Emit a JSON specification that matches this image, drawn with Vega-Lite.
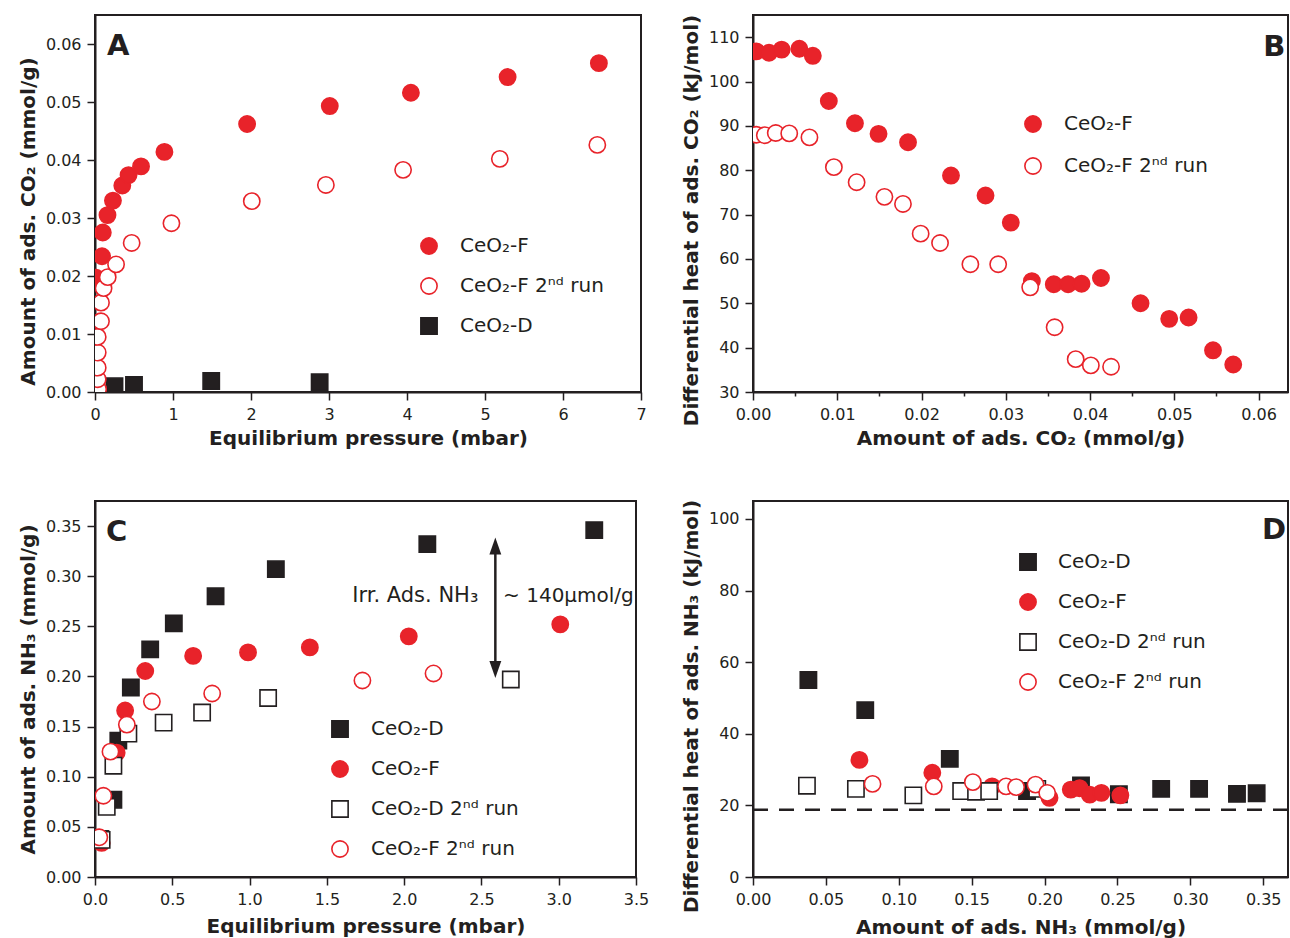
{
  "$schema": "https://vega.github.io/schema/vega-lite/v6.json",
  "background": "white",
  "padding": {"left": 17, "top": 13, "right": 0, "bottom": 0},
  "bounds": "flush",
  "columns": 2,
  "align": "each",
  "spacing": {"row": 109, "column": 112},
  "resolve": {
    "scale": {"shape": "independent", "fill": "independent", "stroke": "independent"},
    "legend": {"shape": "independent", "fill": "independent", "stroke": "independent"}
  },
  "config": {
    "font": "DejaVu Sans",
    "view": {"stroke": "#231f20", "strokeWidth": 2},
    "axis": {
      "domainColor": "#231f20", "domainWidth": 2, "tickColor": "#231f20", "tickWidth": 1.5,
      "labelFont": "DejaVu Sans", "labelFontSize": 16, "labelColor": "#231f20",
      "titleFont": "DejaVu Sans", "titleFontSize": 20, "titleFontWeight": "bold", "titleColor": "#231f20",
      "grid": false, "labelPadding": 6, "labelFlush": false, "labelOverlap": false
    },
    "legend": {
      "title": null, "orient": "none", "padding": 0, "symbolSize": 265, "symbolStrokeWidth": 1.6,
      "labelFont": "DejaVu Sans", "labelFontSize": 20, "labelColor": "#231f20", "labelLimit": 400
    }
  },
  "datasets": {
    "a": [
      {"s": "CeO₂-D", "x": 0.25, "y": 0.001},
      {"s": "CeO₂-D", "x": 0.5, "y": 0.0012},
      {"s": "CeO₂-D", "x": 1.49, "y": 0.0019},
      {"s": "CeO₂-D", "x": 2.88, "y": 0.0017},
      {"s": "CeO₂-F", "x": 0.013, "y": 0.0197},
      {"s": "CeO₂-F", "x": 0.09, "y": 0.0234},
      {"s": "CeO₂-F", "x": 0.1, "y": 0.0275},
      {"s": "CeO₂-F", "x": 0.16, "y": 0.0305},
      {"s": "CeO₂-F", "x": 0.23, "y": 0.033},
      {"s": "CeO₂-F", "x": 0.35, "y": 0.0356},
      {"s": "CeO₂-F", "x": 0.43, "y": 0.0374},
      {"s": "CeO₂-F", "x": 0.59, "y": 0.0389},
      {"s": "CeO₂-F", "x": 0.89, "y": 0.0414},
      {"s": "CeO₂-F", "x": 1.95, "y": 0.0462},
      {"s": "CeO₂-F", "x": 3.01, "y": 0.0493},
      {"s": "CeO₂-F", "x": 4.05, "y": 0.0516},
      {"s": "CeO₂-F", "x": 5.29, "y": 0.0543},
      {"s": "CeO₂-F", "x": 6.46, "y": 0.0567},
      {"s": "CeO₂-F 2ⁿᵈ run", "x": 0.04, "y": 0.0005},
      {"s": "CeO₂-F 2ⁿᵈ run", "x": 0.035, "y": 0.0022},
      {"s": "CeO₂-F 2ⁿᵈ run", "x": 0.035, "y": 0.0042},
      {"s": "CeO₂-F 2ⁿᵈ run", "x": 0.035, "y": 0.0068},
      {"s": "CeO₂-F 2ⁿᵈ run", "x": 0.035, "y": 0.0095},
      {"s": "CeO₂-F 2ⁿᵈ run", "x": 0.077, "y": 0.0122},
      {"s": "CeO₂-F 2ⁿᵈ run", "x": 0.077, "y": 0.0154},
      {"s": "CeO₂-F 2ⁿᵈ run", "x": 0.11, "y": 0.0179},
      {"s": "CeO₂-F 2ⁿᵈ run", "x": 0.163, "y": 0.0198},
      {"s": "CeO₂-F 2ⁿᵈ run", "x": 0.27, "y": 0.022},
      {"s": "CeO₂-F 2ⁿᵈ run", "x": 0.47, "y": 0.0257},
      {"s": "CeO₂-F 2ⁿᵈ run", "x": 0.98, "y": 0.0291},
      {"s": "CeO₂-F 2ⁿᵈ run", "x": 2.01, "y": 0.0329},
      {"s": "CeO₂-F 2ⁿᵈ run", "x": 2.96, "y": 0.0357},
      {"s": "CeO₂-F 2ⁿᵈ run", "x": 3.95, "y": 0.0383},
      {"s": "CeO₂-F 2ⁿᵈ run", "x": 5.19, "y": 0.0402},
      {"s": "CeO₂-F 2ⁿᵈ run", "x": 6.44, "y": 0.0426}
    ],
    "b": [
      {"s": "CeO₂-F", "x": 0.0004, "y": 106.8},
      {"s": "CeO₂-F", "x": 0.0019, "y": 106.5},
      {"s": "CeO₂-F", "x": 0.0034, "y": 107.2},
      {"s": "CeO₂-F", "x": 0.0055, "y": 107.4},
      {"s": "CeO₂-F", "x": 0.0071, "y": 105.8},
      {"s": "CeO₂-F", "x": 0.009, "y": 95.6},
      {"s": "CeO₂-F", "x": 0.0121, "y": 90.6},
      {"s": "CeO₂-F", "x": 0.0149, "y": 88.2},
      {"s": "CeO₂-F", "x": 0.0184, "y": 86.3},
      {"s": "CeO₂-F", "x": 0.0235, "y": 78.8},
      {"s": "CeO₂-F", "x": 0.0276, "y": 74.3},
      {"s": "CeO₂-F", "x": 0.0306, "y": 68.2},
      {"s": "CeO₂-F", "x": 0.0331, "y": 55.0},
      {"s": "CeO₂-F", "x": 0.0357, "y": 54.3},
      {"s": "CeO₂-F", "x": 0.0374, "y": 54.3},
      {"s": "CeO₂-F", "x": 0.039, "y": 54.4},
      {"s": "CeO₂-F", "x": 0.0413, "y": 55.7},
      {"s": "CeO₂-F", "x": 0.046, "y": 50.0},
      {"s": "CeO₂-F", "x": 0.0494, "y": 46.5},
      {"s": "CeO₂-F", "x": 0.0517, "y": 46.8},
      {"s": "CeO₂-F", "x": 0.0546, "y": 39.4},
      {"s": "CeO₂-F", "x": 0.057, "y": 36.2},
      {"s": "CeO₂-F 2ⁿᵈ run", "x": 0.0004, "y": 88.0},
      {"s": "CeO₂-F 2ⁿᵈ run", "x": 0.0014, "y": 87.9},
      {"s": "CeO₂-F 2ⁿᵈ run", "x": 0.0027, "y": 88.4},
      {"s": "CeO₂-F 2ⁿᵈ run", "x": 0.0043, "y": 88.3},
      {"s": "CeO₂-F 2ⁿᵈ run", "x": 0.0067, "y": 87.4},
      {"s": "CeO₂-F 2ⁿᵈ run", "x": 0.0096, "y": 80.7},
      {"s": "CeO₂-F 2ⁿᵈ run", "x": 0.0123, "y": 77.3},
      {"s": "CeO₂-F 2ⁿᵈ run", "x": 0.0156, "y": 74.0},
      {"s": "CeO₂-F 2ⁿᵈ run", "x": 0.0178, "y": 72.4},
      {"s": "CeO₂-F 2ⁿᵈ run", "x": 0.0199, "y": 65.7},
      {"s": "CeO₂-F 2ⁿᵈ run", "x": 0.0222, "y": 63.6},
      {"s": "CeO₂-F 2ⁿᵈ run", "x": 0.0258, "y": 58.8},
      {"s": "CeO₂-F 2ⁿᵈ run", "x": 0.0291, "y": 58.8},
      {"s": "CeO₂-F 2ⁿᵈ run", "x": 0.0329, "y": 53.6},
      {"s": "CeO₂-F 2ⁿᵈ run", "x": 0.0358, "y": 44.6},
      {"s": "CeO₂-F 2ⁿᵈ run", "x": 0.0383, "y": 37.4},
      {"s": "CeO₂-F 2ⁿᵈ run", "x": 0.0401, "y": 36.0},
      {"s": "CeO₂-F 2ⁿᵈ run", "x": 0.0425, "y": 35.7}
    ],
    "c": [
      {"s": "CeO₂-D", "x": 0.035, "y": 0.038},
      {"s": "CeO₂-D", "x": 0.119, "y": 0.077},
      {"s": "CeO₂-D", "x": 0.151, "y": 0.136},
      {"s": "CeO₂-D", "x": 0.232, "y": 0.189},
      {"s": "CeO₂-D", "x": 0.357, "y": 0.227},
      {"s": "CeO₂-D", "x": 0.51, "y": 0.253},
      {"s": "CeO₂-D", "x": 0.78, "y": 0.28},
      {"s": "CeO₂-D", "x": 1.17, "y": 0.307},
      {"s": "CeO₂-D", "x": 2.15, "y": 0.332},
      {"s": "CeO₂-D", "x": 3.23, "y": 0.346},
      {"s": "CeO₂-F", "x": 0.043, "y": 0.034},
      {"s": "CeO₂-F", "x": 0.14, "y": 0.124},
      {"s": "CeO₂-F", "x": 0.195, "y": 0.166},
      {"s": "CeO₂-F", "x": 0.325, "y": 0.2055},
      {"s": "CeO₂-F", "x": 0.635, "y": 0.2205},
      {"s": "CeO₂-F", "x": 0.99, "y": 0.224},
      {"s": "CeO₂-F", "x": 1.39, "y": 0.229},
      {"s": "CeO₂-F", "x": 2.03, "y": 0.24},
      {"s": "CeO₂-F", "x": 3.01, "y": 0.252},
      {"s": "CeO₂-D 2ⁿᵈ run", "x": 0.043, "y": 0.037},
      {"s": "CeO₂-D 2ⁿᵈ run", "x": 0.076, "y": 0.07},
      {"s": "CeO₂-D 2ⁿᵈ run", "x": 0.119, "y": 0.111},
      {"s": "CeO₂-D 2ⁿᵈ run", "x": 0.216, "y": 0.143},
      {"s": "CeO₂-D 2ⁿᵈ run", "x": 0.444, "y": 0.154},
      {"s": "CeO₂-D 2ⁿᵈ run", "x": 0.693, "y": 0.164},
      {"s": "CeO₂-D 2ⁿᵈ run", "x": 1.12, "y": 0.1785},
      {"s": "CeO₂-D 2ⁿᵈ run", "x": 2.69, "y": 0.197},
      {"s": "CeO₂-F 2ⁿᵈ run", "x": 0.028, "y": 0.0396},
      {"s": "CeO₂-F 2ⁿᵈ run", "x": 0.054, "y": 0.081},
      {"s": "CeO₂-F 2ⁿᵈ run", "x": 0.1, "y": 0.125},
      {"s": "CeO₂-F 2ⁿᵈ run", "x": 0.206, "y": 0.152},
      {"s": "CeO₂-F 2ⁿᵈ run", "x": 0.368, "y": 0.175},
      {"s": "CeO₂-F 2ⁿᵈ run", "x": 0.758, "y": 0.183},
      {"s": "CeO₂-F 2ⁿᵈ run", "x": 1.73, "y": 0.196},
      {"s": "CeO₂-F 2ⁿᵈ run", "x": 2.19, "y": 0.203}
    ],
    "d": [
      {"s": "CeO₂-D", "x": 0.038, "y": 55.0},
      {"s": "CeO₂-D", "x": 0.077, "y": 46.6},
      {"s": "CeO₂-D", "x": 0.135, "y": 33.0},
      {"s": "CeO₂-D", "x": 0.188, "y": 24.0},
      {"s": "CeO₂-D", "x": 0.225, "y": 25.6},
      {"s": "CeO₂-D", "x": 0.251, "y": 23.1},
      {"s": "CeO₂-D", "x": 0.28, "y": 24.6},
      {"s": "CeO₂-D", "x": 0.306, "y": 24.6},
      {"s": "CeO₂-D", "x": 0.332, "y": 23.2},
      {"s": "CeO₂-D", "x": 0.3455, "y": 23.4},
      {"s": "CeO₂-F", "x": 0.073, "y": 32.7},
      {"s": "CeO₂-F", "x": 0.123, "y": 29.1},
      {"s": "CeO₂-F", "x": 0.164, "y": 25.3},
      {"s": "CeO₂-F", "x": 0.2034, "y": 22.1},
      {"s": "CeO₂-F", "x": 0.218, "y": 24.4},
      {"s": "CeO₂-F", "x": 0.224, "y": 24.8},
      {"s": "CeO₂-F", "x": 0.231, "y": 23.0},
      {"s": "CeO₂-F", "x": 0.239, "y": 23.5},
      {"s": "CeO₂-F", "x": 0.252, "y": 22.8},
      {"s": "CeO₂-D 2ⁿᵈ run", "x": 0.037, "y": 25.5},
      {"s": "CeO₂-D 2ⁿᵈ run", "x": 0.0706, "y": 24.6},
      {"s": "CeO₂-D 2ⁿᵈ run", "x": 0.11, "y": 22.8},
      {"s": "CeO₂-D 2ⁿᵈ run", "x": 0.1428, "y": 24.0},
      {"s": "CeO₂-D 2ⁿᵈ run", "x": 0.153, "y": 23.8},
      {"s": "CeO₂-D 2ⁿᵈ run", "x": 0.162, "y": 24.0},
      {"s": "CeO₂-D 2ⁿᵈ run", "x": 0.195, "y": 24.6},
      {"s": "CeO₂-F 2ⁿᵈ run", "x": 0.082, "y": 26.0},
      {"s": "CeO₂-F 2ⁿᵈ run", "x": 0.124, "y": 25.3},
      {"s": "CeO₂-F 2ⁿᵈ run", "x": 0.1508, "y": 26.5},
      {"s": "CeO₂-F 2ⁿᵈ run", "x": 0.1736, "y": 25.3},
      {"s": "CeO₂-F 2ⁿᵈ run", "x": 0.1805, "y": 25.1},
      {"s": "CeO₂-F 2ⁿᵈ run", "x": 0.1938, "y": 25.8},
      {"s": "CeO₂-F 2ⁿᵈ run", "x": 0.2018, "y": 23.5}
    ],
    "arrow": [{"x": 2.59, "y1": 0.33, "y2": 0.207}],
    "dash": [{"y": 18.8}]
  },
  "concat": [
    {
      "width": 546, "height": 377,
      "layer": [
        {
          "data": {"name": "a"},
          "mark": {"type": "point", "size": 265, "strokeWidth": 1.6, "opacity": 1, "clip": true},
          "encoding": {
            "x": {"field": "x", "type": "quantitative", "scale": {"domain": [0, 7], "nice": false, "zero": false},
              "axis": {"title": "Equilibrium pressure (mbar)", "labelOverlap": false, "values": [0, 0.5, 1, 1.5, 2, 2.5, 3, 3.5, 4, 4.5, 5, 5.5, 6, 6.5, 7],
                "tickSize": {"condition": {"test": "abs(datum.value - round(datum.value)) < 1e-6", "value": 8}, "value": 4},
                "labelExpr": "abs(datum.value - round(datum.value)) < 1e-6 ? format(datum.value, 'd') : ''", "titleY": 36}},
            "y": {"field": "y", "type": "quantitative", "scale": {"domain": [0, 0.065], "nice": false, "zero": false},
              "axis": {"title": "Amount of ads. CO₂ (mmol/g)", "labelOverlap": false, "values": [0, 0.005, 0.01, 0.015, 0.02, 0.025, 0.03, 0.035, 0.04, 0.045, 0.05, 0.055, 0.06],
                "tickSize": {"condition": {"test": "abs(datum.value*100 - round(datum.value*100)) < 1e-6", "value": 8}, "value": 4},
                "labelExpr": "abs(datum.value*100 - round(datum.value*100)) < 1e-6 ? format(datum.value, '.2f') : ''", "titleX": -57, "titleY": 206}},
            "shape": {"field": "s", "type": "nominal", "scale": {"domain": ["CeO₂-F", "CeO₂-F 2ⁿᵈ run", "CeO₂-D"], "range": ["circle", "circle", "square"]},
              "legend": {"legendX": 324, "legendY": 221, "labelOffset": 21, "rowPadding": 16}},
            "fill": {"field": "s", "type": "nominal", "scale": {"domain": ["CeO₂-F", "CeO₂-F 2ⁿᵈ run", "CeO₂-D"], "range": ["#e8232a", "#ffffff", "#231f20"]},
              "legend": {"legendX": 324, "legendY": 221, "labelOffset": 21, "rowPadding": 16}},
            "stroke": {"field": "s", "type": "nominal", "scale": {"domain": ["CeO₂-F", "CeO₂-F 2ⁿᵈ run", "CeO₂-D"], "range": ["#e8232a", "#e8232a", "#231f20"]},
              "legend": {"legendX": 324, "legendY": 221, "labelOffset": 21, "rowPadding": 16}}
          }
        },
        {
          "data": {"values": [{}]},
          "mark": {"type": "text", "text": "A", "fontSize": 29, "fontWeight": "bold", "align": "left", "baseline": "alphabetic", "color": "#231f20"},
          "encoding": {"x": {"datum": 0.154, "type": "quantitative"}, "y": {"datum": 0.0581, "type": "quantitative"}}
        }
      ]
    },
    {
      "width": 535, "height": 377,
      "layer": [
        {
          "data": {"name": "b"},
          "mark": {"type": "point", "size": 265, "strokeWidth": 1.6, "opacity": 1, "clip": true},
          "encoding": {
            "x": {"field": "x", "type": "quantitative", "scale": {"domain": [0, 0.0635], "nice": false, "zero": false},
              "axis": {"title": "Amount of ads. CO₂ (mmol/g)", "labelOverlap": false, "values": [0, 0.005, 0.01, 0.015, 0.02, 0.025, 0.03, 0.035, 0.04, 0.045, 0.05, 0.055, 0.06],
                "tickSize": {"condition": {"test": "abs(datum.value*100 - round(datum.value*100)) < 1e-6", "value": 8}, "value": 4},
                "labelExpr": "abs(datum.value*100 - round(datum.value*100)) < 1e-6 ? format(datum.value, '.2f') : ''", "titleY": 36}},
            "y": {"field": "y", "type": "quantitative", "scale": {"domain": [30, 115], "nice": false, "zero": false},
              "axis": {"title": "Differential heat of ads. CO₂ (kJ/mol)", "labelOverlap": false, "values": [30, 35, 40, 45, 50, 55, 60, 65, 70, 75, 80, 85, 90, 95, 100, 105, 110],
                "tickSize": {"condition": {"test": "datum.value % 10 == 0", "value": 8}, "value": 4},
                "labelExpr": "datum.value % 10 == 0 ? format(datum.value, 'd') : ''", "titleX": -52, "titleY": 205}},
            "shape": {"field": "s", "type": "nominal", "scale": {"domain": ["CeO₂-F", "CeO₂-F 2ⁿᵈ run"], "range": ["circle", "circle"]},
              "legend": {"legendX": 270, "legendY": 99, "labelOffset": 21, "rowPadding": 18}},
            "fill": {"field": "s", "type": "nominal", "scale": {"domain": ["CeO₂-F", "CeO₂-F 2ⁿᵈ run"], "range": ["#e8232a", "#ffffff"]},
              "legend": {"legendX": 270, "legendY": 99, "labelOffset": 21, "rowPadding": 18}},
            "stroke": {"field": "s", "type": "nominal", "scale": {"domain": ["CeO₂-F", "CeO₂-F 2ⁿᵈ run"], "range": ["#e8232a", "#e8232a"]},
              "legend": {"legendX": 270, "legendY": 99, "labelOffset": 21, "rowPadding": 18}}
          }
        },
        {
          "data": {"values": [{}]},
          "mark": {"type": "text", "text": "B", "fontSize": 29, "fontWeight": "bold", "align": "right", "baseline": "alphabetic", "color": "#231f20"},
          "encoding": {"x": {"datum": 0.0632, "type": "quantitative"}, "y": {"datum": 105.8, "type": "quantitative"}}
        }
      ]
    },
    {
      "width": 541, "height": 376,
      "layer": [
        {
          "data": {"name": "c"},
          "mark": {"type": "point", "size": 265, "strokeWidth": 1.6, "opacity": 1, "clip": true},
          "encoding": {
            "x": {"field": "x", "type": "quantitative", "scale": {"domain": [0, 3.5], "nice": false, "zero": false},
              "axis": {"title": "Equilibrium pressure (mbar)", "labelOverlap": false, "values": [0, 0.25, 0.5, 0.75, 1, 1.25, 1.5, 1.75, 2, 2.25, 2.5, 2.75, 3, 3.25, 3.5],
                "tickSize": {"condition": {"test": "abs(datum.value*2 - round(datum.value*2)) < 1e-6", "value": 8}, "value": 4},
                "labelExpr": "abs(datum.value*2 - round(datum.value*2)) < 1e-6 ? format(datum.value, '.1f') : ''", "titleY": 39}},
            "y": {"field": "y", "type": "quantitative", "scale": {"domain": [0, 0.375], "nice": false, "zero": false},
              "axis": {"title": "Amount of ads. NH₃ (mmol/g)", "labelOverlap": false, "values": [0, 0.025, 0.05, 0.075, 0.1, 0.125, 0.15, 0.175, 0.2, 0.225, 0.25, 0.275, 0.3, 0.325, 0.35],
                "tickSize": {"condition": {"test": "abs(datum.value*20 - round(datum.value*20)) < 1e-6", "value": 8}, "value": 4},
                "labelExpr": "abs(datum.value*20 - round(datum.value*20)) < 1e-6 ? format(datum.value, '.2f') : ''", "titleX": -57, "titleY": 188}},
            "shape": {"field": "s", "type": "nominal", "scale": {"domain": ["CeO₂-D", "CeO₂-F", "CeO₂-D 2ⁿᵈ run", "CeO₂-F 2ⁿᵈ run"], "range": ["square", "circle", "square", "circle"]},
              "legend": {"legendX": 235, "legendY": 218, "labelOffset": 21, "rowPadding": 16}},
            "fill": {"field": "s", "type": "nominal", "scale": {"domain": ["CeO₂-D", "CeO₂-F", "CeO₂-D 2ⁿᵈ run", "CeO₂-F 2ⁿᵈ run"], "range": ["#231f20", "#e8232a", "#ffffff", "#ffffff"]},
              "legend": {"legendX": 235, "legendY": 218, "labelOffset": 21, "rowPadding": 16}},
            "stroke": {"field": "s", "type": "nominal", "scale": {"domain": ["CeO₂-D", "CeO₂-F", "CeO₂-D 2ⁿᵈ run", "CeO₂-F 2ⁿᵈ run"], "range": ["#231f20", "#e8232a", "#231f20", "#e8232a"]},
              "legend": {"legendX": 235, "legendY": 218, "labelOffset": 21, "rowPadding": 16}}
          }
        },
        {
          "data": {"name": "arrow"},
          "mark": {"type": "rule", "strokeWidth": 2.5, "color": "#231f20"},
          "encoding": {"x": {"field": "x", "type": "quantitative"}, "y": {"field": "y1", "type": "quantitative"}, "y2": {"field": "y2"}}
        },
        {
          "data": {"name": "arrow"},
          "mark": {"type": "point", "shape": "M0,-1L0.7,1L-0.7,1Z", "filled": true, "size": 289, "color": "#231f20", "opacity": 1},
          "encoding": {"x": {"field": "x", "type": "quantitative"}, "y": {"field": "y1", "type": "quantitative"}}
        },
        {
          "data": {"name": "arrow"},
          "mark": {"type": "point", "shape": "M0,1L0.7,-1L-0.7,-1Z", "filled": true, "size": 289, "color": "#231f20", "opacity": 1},
          "encoding": {"x": {"field": "x", "type": "quantitative"}, "y": {"field": "y2", "type": "quantitative"}}
        },
        {
          "data": {"values": [{}]},
          "mark": {"type": "text", "text": "Irr. Ads. NH₃", "fontSize": 21, "align": "right", "baseline": "alphabetic", "color": "#231f20"},
          "encoding": {"x": {"datum": 2.48, "type": "quantitative"}, "y": {"datum": 0.274, "type": "quantitative"}}
        },
        {
          "data": {"values": [{}]},
          "mark": {"type": "text", "text": "~ 140μmol/g", "fontSize": 20, "align": "left", "baseline": "alphabetic", "color": "#231f20"},
          "encoding": {"x": {"datum": 2.64, "type": "quantitative"}, "y": {"datum": 0.274, "type": "quantitative"}}
        },
        {
          "data": {"values": [{}]},
          "mark": {"type": "text", "text": "C", "fontSize": 29, "fontWeight": "bold", "align": "left", "baseline": "alphabetic", "color": "#231f20"},
          "encoding": {"x": {"datum": 0.071, "type": "quantitative"}, "y": {"datum": 0.335, "type": "quantitative"}}
        }
      ]
    },
    {
      "width": 535, "height": 376,
      "layer": [
        {
          "data": {"name": "d"},
          "mark": {"type": "point", "size": 265, "strokeWidth": 1.6, "opacity": 1, "clip": true},
          "encoding": {
            "x": {"field": "x", "type": "quantitative", "scale": {"domain": [0, 0.367], "nice": false, "zero": false},
              "axis": {"title": "Amount of ads. NH₃ (mmol/g)", "labelOverlap": false, "values": [0, 0.025, 0.05, 0.075, 0.1, 0.125, 0.15, 0.175, 0.2, 0.225, 0.25, 0.275, 0.3, 0.325, 0.35],
                "tickSize": {"condition": {"test": "abs(datum.value*20 - round(datum.value*20)) < 1e-6", "value": 8}, "value": 4},
                "labelExpr": "abs(datum.value*20 - round(datum.value*20)) < 1e-6 ? format(datum.value, '.2f') : ''", "titleY": 40}},
            "y": {"field": "y", "type": "quantitative", "scale": {"domain": [0, 105], "nice": false, "zero": false},
              "axis": {"title": "Differential heat of ads. NH₃ (kJ/mol)", "labelOverlap": false, "values": [0, 10, 20, 30, 40, 50, 60, 70, 80, 90, 100],
                "tickSize": 8, "format": "d", "titleX": -52, "titleY": 205}},
            "shape": {"field": "s", "type": "nominal", "scale": {"domain": ["CeO₂-D", "CeO₂-F", "CeO₂-D 2ⁿᵈ run", "CeO₂-F 2ⁿᵈ run"], "range": ["square", "circle", "square", "circle"]},
              "legend": {"legendX": 265, "legendY": 51, "labelOffset": 20, "rowPadding": 16}},
            "fill": {"field": "s", "type": "nominal", "scale": {"domain": ["CeO₂-D", "CeO₂-F", "CeO₂-D 2ⁿᵈ run", "CeO₂-F 2ⁿᵈ run"], "range": ["#231f20", "#e8232a", "#ffffff", "#ffffff"]},
              "legend": {"legendX": 265, "legendY": 51, "labelOffset": 20, "rowPadding": 16}},
            "stroke": {"field": "s", "type": "nominal", "scale": {"domain": ["CeO₂-D", "CeO₂-F", "CeO₂-D 2ⁿᵈ run", "CeO₂-F 2ⁿᵈ run"], "range": ["#231f20", "#e8232a", "#231f20", "#e8232a"]},
              "legend": {"legendX": 265, "legendY": 51, "labelOffset": 20, "rowPadding": 16}}
          }
        },
        {
          "data": {"name": "dash"},
          "mark": {"type": "rule", "strokeDash": [15, 11], "strokeWidth": 2.5, "color": "#231f20"},
          "encoding": {"y": {"field": "y", "type": "quantitative"}}
        },
        {
          "data": {"values": [{}]},
          "mark": {"type": "text", "text": "D", "fontSize": 29, "fontWeight": "bold", "align": "right", "baseline": "alphabetic", "color": "#231f20"},
          "encoding": {"x": {"datum": 0.3656, "type": "quantitative"}, "y": {"datum": 94.4, "type": "quantitative"}}
        }
      ]
    }
  ]
}
